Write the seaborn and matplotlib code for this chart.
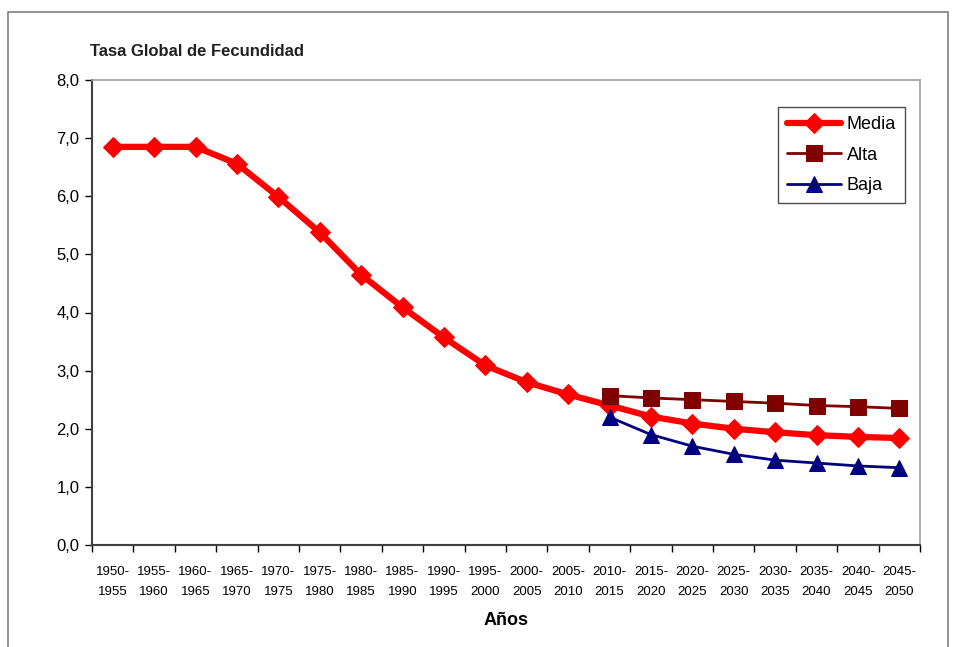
import matplotlib
matplotlib.use("Agg")
import matplotlib.pyplot as plt
import seaborn as sns
import numpy as np
import pandas as pd
from matplotlib.ticker import FixedLocator, FuncFormatter

periods = ["1950-\n1955", "1955-\n1960", "1960-\n1965", "1965-\n1970", "1970-\n1975",
           "1975-\n1980", "1980-\n1985", "1985-\n1990", "1990-\n1995", "1995-\n2000",
           "2000-\n2005", "2005-\n2010", "2010-\n2015", "2015-\n2020", "2020-\n2025",
           "2025-\n2030", "2030-\n2035", "2035-\n2040", "2040-\n2045", "2045-\n2050"]
media = [6.85, 6.85, 6.85, 6.56, 5.99, 5.38, 4.65, 4.09, 3.57, 3.09,
         2.80, 2.59, 2.40, 2.21, 2.09, 2.00, 1.94, 1.89, 1.86, 1.84]
alta_start = 12
alta = [2.57, 2.53, 2.50, 2.47, 2.44, 2.40, 2.38, 2.35]
baja = [2.20, 1.90, 1.70, 1.56, 1.46, 1.41, 1.36, 1.33]
yticks = [0, 1, 2, 3, 4, 5, 6, 7, 8]

sns.set_style("white")
plt.rcParams["font.family"] = ["Liberation Sans Narrow", "Liberation Sans", "DejaVu Sans"]
plt.rcParams["text.color"] = "black"
plt.rcParams["axes.labelcolor"] = "black"
plt.rcParams["xtick.color"] = "black"
plt.rcParams["ytick.color"] = "black"

fig = plt.figure(figsize=(9.54, 6.47), dpi=100)
W, H = 954, 647
ax = fig.add_axes([92 / W, (H - 545) / H, (920 - 92) / W, (545 - 80) / H])

# outer figure frame
fig.patches.append(plt.Rectangle((8 / W, -0.01), (948 - 8) / W, (H - 12) / H + 0.01,
                                 transform=fig.transFigure, fill=False,
                                 edgecolor="#808080", linewidth=1.2))

idx = np.arange(len(periods))
df_m = pd.DataFrame({"x": idx, "y": media})
df_a = pd.DataFrame({"x": idx[alta_start:], "y": alta})
df_b = pd.DataFrame({"x": idx[alta_start:], "y": baja})

sns.lineplot(data=df_m, x="x", y="y", ax=ax, color="#ff0000", linewidth=4.5,
             marker="D", markersize=10, markeredgecolor="#ff0000", label="Media")
sns.lineplot(data=df_a, x="x", y="y", ax=ax, color="#800000", linewidth=2,
             marker="s", markersize=11, markeredgecolor="#800000", label="Alta")
sns.lineplot(data=df_b, x="x", y="y", ax=ax, color="#000080", linewidth=2,
             marker="^", markersize=11, markeredgecolor="#000080", label="Baja")

ax.set_xlim(-0.5, len(periods) - 0.5)
ax.set_ylim(0, 8)

# x ticks: marks at boundaries, labels at centers
ax.xaxis.set_major_locator(FixedLocator(np.arange(-0.5, len(periods), 1.0)))
ax.xaxis.set_major_formatter(FuncFormatter(lambda v, p: ""))
ax.xaxis.set_minor_locator(FixedLocator(idx))
ax.set_xticklabels(periods, minor=True, fontsize=9.5, linespacing=1.9)
ax.tick_params(axis="x", which="major", direction="out", length=5, width=1, color="black", bottom=True)
ax.tick_params(axis="x", which="minor", length=0, pad=15, bottom=True)

ax.set_yticks(yticks)
ax.set_yticklabels([f"{v:.1f}".replace(".", ",") for v in yticks], fontsize=12)
ax.tick_params(axis="y", direction="out", length=5, width=1, color="black", left=True, pad=4)

for s in ["top", "right"]:
    ax.spines[s].set_visible(True)
    ax.spines[s].set_color("#a0a0a0")
    ax.spines[s].set_linewidth(1.2)
for s in ["left", "bottom"]:
    ax.spines[s].set_color("#404040")
    ax.spines[s].set_linewidth(1.5)

ax.set_xlabel("Años", fontsize=13, fontweight="bold", labelpad=10)
ax.set_ylabel("")
fig.text(90 / W, 1 - 52 / H, "Tasa Global de Fecundidad", fontsize=12,
         fontweight="bold", va="center", ha="left", color="#202020")

leg = ax.legend(loc="upper right", bbox_to_anchor=((905 - 92) / (920 - 92), (545 - 107) / (545 - 80)),
                fontsize=13, frameon=True, fancybox=False, edgecolor="#202020",
                handlelength=3.0, handletextpad=0.3, borderpad=0.5, labelspacing=0.75,
                borderaxespad=0)
leg.get_frame().set_linewidth(1.0)

fig.savefig("out.png", dpi=100)
